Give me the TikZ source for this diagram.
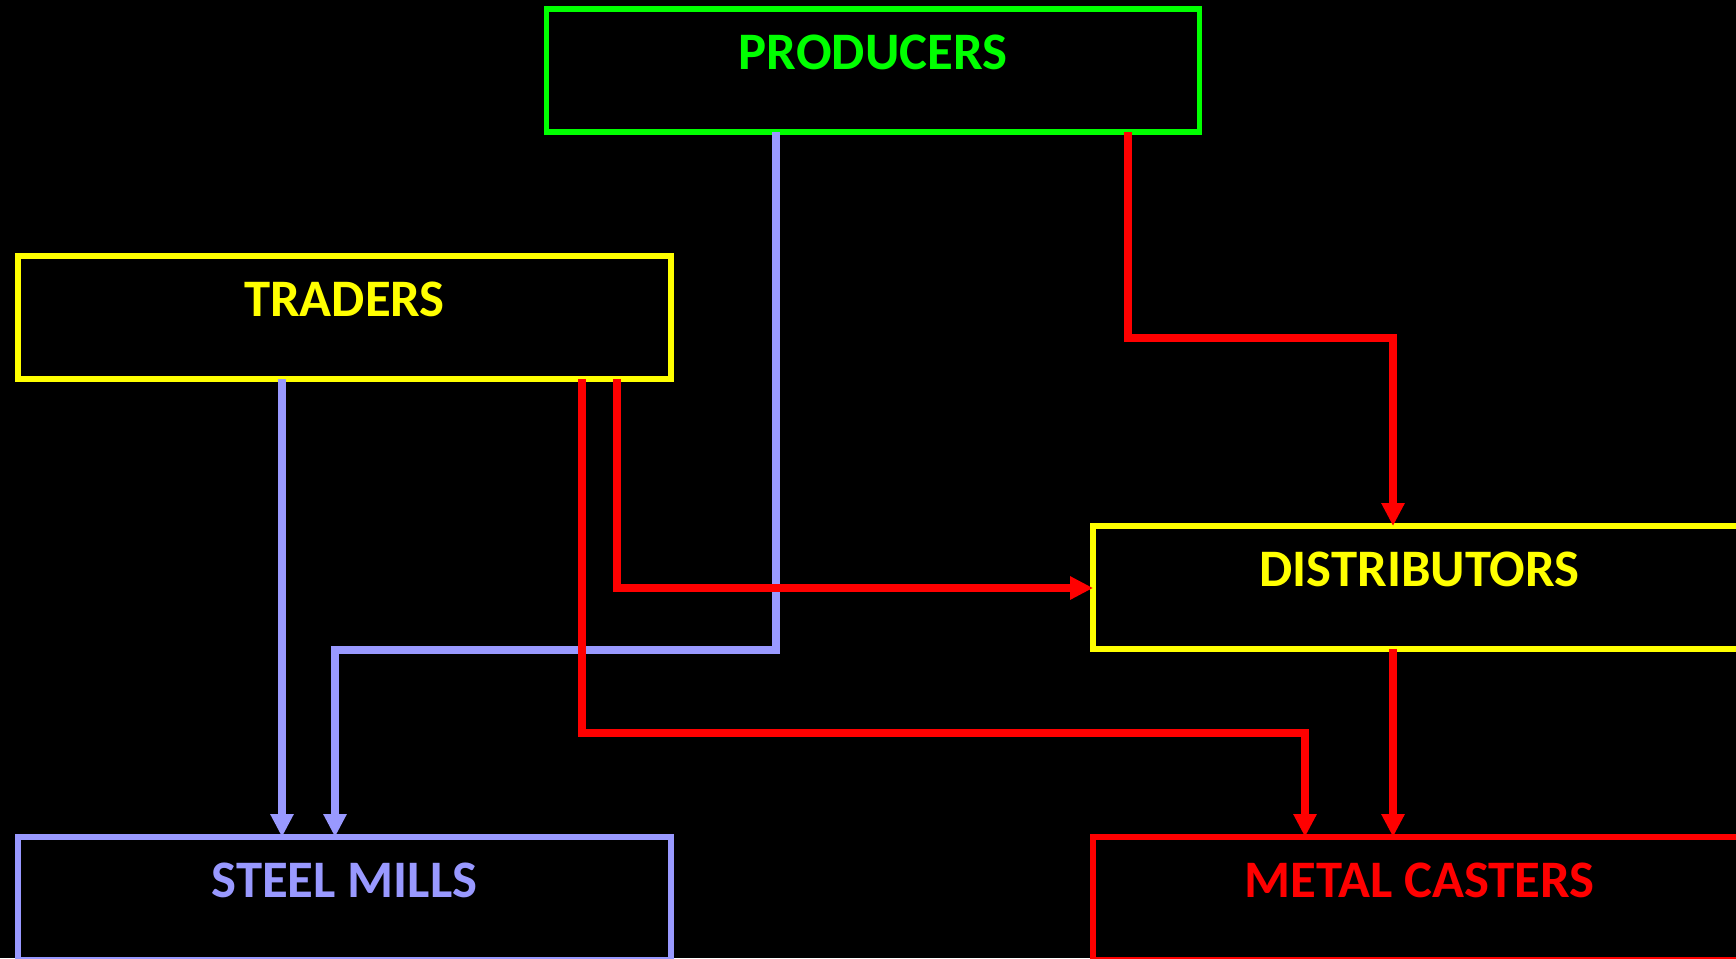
\documentclass[tikz,border=0pt]{standalone}
\usepackage{fontspec}
\setmainfont{Carlito}
\usetikzlibrary{arrows.meta}
\definecolor{cgreen}{RGB}{0,255,0}
\definecolor{cyellow}{RGB}{255,255,0}
\definecolor{cblue}{RGB}{153,153,255}
\definecolor{cred}{RGB}{255,0,0}
\tikzset{
  box/.style={draw, line width=3.2pt, minimum width=13.06cm, minimum height=2.46cm, inner sep=0pt, outer sep=0pt},
  lbl/.style={font=\bfseries\fontsize{30}{30}\selectfont, inner sep=0pt},
  conn/.style={line width=4.6pt, -{Triangle[length=0.46cm,width=0.44cm]}},
}
\begin{document}
\begin{tikzpicture}[x=0.02cm,y=-0.02cm]
\fill[black] (0,0) rectangle (1736,958);
\useasboundingbox (0,0) rectangle (1736,958);
\clip (0,0) rectangle (1736,958);
% boxes
\node[box, draw=cgreen] (prod) at (873,70.5) {};
\node[box, draw=cyellow] (trad) at (344.5,317.5) {};
\node[box, draw=cyellow] (dist) at (1419.5,587.5) {};
\node[box, draw=cblue] (mill) at (344.5,898.5) {};
\node[box, draw=cred] (cast) at (1419.5,898.5) {};
% labels
\node[lbl, text=cgreen] (prodt) at ([yshift=-0.86cm]prod.north) {PRODUCERS};
\node[lbl, text=cyellow] (tradt) at ([yshift=-0.86cm]trad.north) {TRADERS};
\node[lbl, text=cyellow] (distt) at ([yshift=-0.86cm]dist.north) {DISTRIBUTORS};
\node[lbl, text=cblue] (millt) at ([yshift=-0.86cm]mill.north) {STEEL MILLS};
\node[lbl, text=cred] (castt) at ([yshift=-0.86cm]cast.north) {METAL CASTERS};
% connectors
\draw[conn, cblue] (776,0 |- prod.south) -- (776,650) -- (335,650) -- (335,0 |- mill.north);
\draw[conn, cblue] (282,0 |- trad.south) -- (282,0 |- mill.north);
\draw[conn, cred] (1128,0 |- prod.south) -- (1128,338) -- (1393,338) -- (1393,0 |- dist.north);
\draw[conn, cred] (617,0 |- trad.south) -- (617,588) -- (0,588 -| dist.west);
\draw[conn, cred] (582,0 |- trad.south) -- (582,733) -- (1305,733) -- (1305,0 |- cast.north);
\draw[conn, cred] (1393,0 |- dist.south) -- (1393,0 |- cast.north);
\end{tikzpicture}
\end{document}
